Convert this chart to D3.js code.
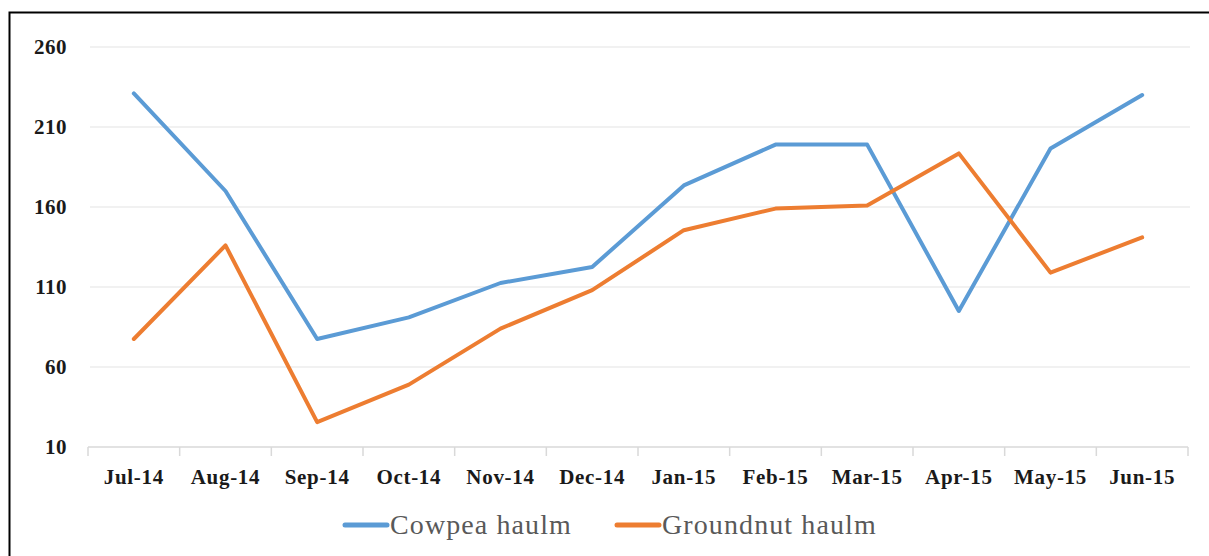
<!DOCTYPE html>
<html>
<head>
<meta charset="utf-8">
<script src="https://cdn.jsdelivr.net/npm/d3@7"></script>
<style>
  body { margin: 0; background: #fff; }
  svg text { font-family: "Liberation Serif", "DejaVu Serif", serif; }
</style>
</head>
<body>
<div class="js-canvas"></div>
<script>
'use strict';

const months = ['Jul-14', 'Aug-14', 'Sep-14', 'Oct-14', 'Nov-14', 'Dec-14',
    'Jan-15', 'Feb-15', 'Mar-15', 'Apr-15', 'May-15', 'Jun-15'];
const cowpea = [231, 170, 77.5, 91, 112.5, 122.5, 173.5, 199, 199, 95, 196.5, 230];
const groundnut = [77.5, 136, 25.5, 49, 84, 108, 145.5, 159, 161, 193.5, 119, 141];
const yTicks = [10, 60, 110, 160, 210, 260];
const seriesNames = ['Cowpea haulm', 'Groundnut haulm'];

const config = {
    width: 1209,
    height: 556,
    margin: { top: 47, right: 21, bottom: 109, left: 88 }
};

const graphWidth = config.width - config.margin.left - config.margin.right;
const graphHeight = config.height - config.margin.top - config.margin.bottom;

const svg = d3.select('.js-canvas')
    .append('svg')
    .attr('width', config.width)
    .attr('height', config.height);

// outer frame (runs off the right and bottom edges like the screenshot)
svg.append('rect')
    .attr('x', 9.5).attr('y', 12.5)
    .attr('width', 1300).attr('height', 600)
    .attr('fill', 'none')
    .attr('stroke', '#000')
    .attr('stroke-width', 2);

const graph = svg.append('g')
    .attr('transform', `translate(${config.margin.left}, ${config.margin.top})`);

const x = d3.scaleBand()
    .domain(months)
    .range([0, graphWidth]);

const y = d3.scaleLinear()
    .domain([10, 260])
    .range([graphHeight, 0]);

// gridlines
graph.append('g')
    .selectAll('line')
    .data(yTicks.slice(1))
    .enter().append('line')
    .attr('x1', 2).attr('x2', graphWidth + 2)
    .attr('y1', d => y(d)).attr('y2', d => y(d))
    .attr('stroke', '#ececec')
    .attr('stroke-width', 1.5);

// y axis labels
const yAxis = d3.axisLeft(y).tickValues(yTicks).tickSize(0).tickPadding(21);
const yAxisGroup = graph.append('g').call(yAxis);
yAxisGroup.select('.domain').remove();
yAxisGroup.selectAll('text')
    .attr('font-size', 21)
    .attr('font-weight', 'bold')
    .attr('letter-spacing', 0.5)
    .attr('fill', '#1a1a1a')
    .attr('dy', '0.3em');

// x axis
const xAxisGroup = graph.append('g')
    .attr('transform', `translate(0, ${graphHeight})`);
xAxisGroup.append('line')
    .attr('x1', 0).attr('x2', graphWidth)
    .attr('stroke', '#d9d9d9').attr('stroke-width', 1.5);
xAxisGroup.selectAll('.tick-mark')
    .data(months.concat(['end']))
    .enter().append('line')
    .attr('class', 'tick-mark')
    .attr('x1', (d, i) => i * x.step()).attr('x2', (d, i) => i * x.step())
    .attr('y1', 0).attr('y2', 9)
    .attr('stroke', '#d9d9d9').attr('stroke-width', 1.5);
xAxisGroup.selectAll('.month')
    .data(months)
    .enter().append('text')
    .attr('class', 'month')
    .attr('x', d => x(d) + x.bandwidth() / 2)
    .attr('y', 37)
    .attr('text-anchor', 'middle')
    .attr('font-size', 21)
    .attr('font-weight', 'bold')
    .attr('letter-spacing', 0.7)
    .attr('fill', '#1a1a1a')
    .text(d => d);

// lines
const colors = ['#5b9bd5', '#ed7d31'];
const line = d3.line()
    .x((d, i) => x(months[i]) + x.bandwidth() / 2)
    .y(d => y(d));

[cowpea, groundnut].forEach((series, i) => {
    graph.append('path')
        .datum(series)
        .attr('d', line)
        .attr('fill', 'none')
        .attr('stroke', colors[i])
        .attr('stroke-width', 4)
        .attr('stroke-linejoin', 'round')
        .attr('stroke-linecap', 'round');
});

// legend
const legendX = [345, 617];
const legend = svg.append('g').attr('transform', 'translate(0, 525)');
seriesNames.forEach((name, i) => {
    const g = legend.append('g').attr('transform', `translate(${legendX[i]}, 0)`);
    g.append('line')
        .attr('x1', 0).attr('x2', 42)
        .attr('stroke', colors[i])
        .attr('stroke-width', 5)
        .attr('stroke-linecap', 'round');
    g.append('text')
        .attr('x', 45)
        .attr('dy', '0.33em')
        .attr('font-size', 28)
        .attr('letter-spacing', 1.1)
        .attr('fill', '#595959')
        .text(name);
});
</script>
</body>
</html>
